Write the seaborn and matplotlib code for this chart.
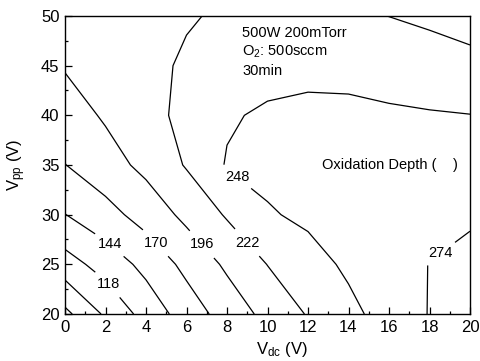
import numpy as np
import matplotlib
matplotlib.use("Agg")
import matplotlib.pyplot as plt
import seaborn as sns

# grid
vdc = [0, 2, 4, 6, 8, 10, 12, 14, 16, 18, 20]
vpp = [20, 25, 30, 35, 40, 45, 50]
depth = [
    [59.5, 96, 127.7, 156, 181, 203.3, 223.8, 241.4, 258.3, 275, 285],
    [107, 128.6, 151.4, 176.9, 200.3, 222.5, 238.3, 252.3, 263.2, 274.5, 280],
    [143.5, 161, 180.3, 202.4, 224.6, 245.5, 253, 258, 262, 266, 271],
    [169.5, 185.4, 202.6, 224, 250, 255, 259, 262, 264, 266, 266],
    [184, 199, 213.8, 228.5, 245, 252, 255, 254, 251.5, 250, 248.5],
    [198, 205, 214, 226, 232, 238, 240, 240, 237, 232, 227],
    [200, 206, 214, 219.5, 226, 229, 229, 226, 221.8, 218, 215],
]
levels = [66, 92, 118, 144, 170, 196, 222, 248, 274]
label_spots = [(2.3, 23.3), (2.3, 27.2), (4.5, 27.2), (6.7, 26.9),
               (9.0, 27.2), (8.3, 33.3), (18.4, 26.5)]

sns.set_style("ticks")
plt.rcParams["font.family"] = ["Liberation Sans", "DejaVu Sans"]
plt.rcParams["mathtext.fontset"] = "custom"
plt.rcParams["mathtext.rm"] = "Liberation Sans"
plt.rcParams["mathtext.it"] = "Liberation Sans"
plt.rcParams["xtick.direction"] = "in"
plt.rcParams["ytick.direction"] = "in"
for key in ["text.color", "axes.labelcolor", "xtick.color", "ytick.color",
            "xtick.labelcolor", "ytick.labelcolor"]:
    plt.rcParams[key] = "black"

fig = plt.figure(figsize=(4.8, 3.61), dpi=100)
ax = fig.add_axes([65 / 480, 1 - 314 / 361, 405 / 480, 298 / 361])

X, Y = np.meshgrid(vdc, vpp)
cs = ax.contour(X, Y, np.array(depth), levels=levels, colors="black", linewidths=0.9)
labels = ax.clabel(cs, manual=label_spots, fmt="%d",
                   fontsize=10.5, inline=True, inline_spacing=6)
for t in labels:
    t.set_rotation(0)

ax.set_xlim(0, 20)
ax.set_ylim(20, 50)
ax.set_xticks(range(0, 21, 2))
ax.set_xticks(range(0, 21, 1), minor=True)
ax.set_yticks(range(20, 51, 5))
ax.set_yticks(np.arange(20, 51, 2.5), minor=True)
ax.tick_params(which="major", length=5, width=0.9, labelsize=12, pad=4,
               top=False, right=False, color="black")
ax.tick_params(which="minor", length=2.5, width=0.9, top=False, right=False)
for s in ax.spines.values():
    s.set_linewidth(1.0)
    s.set_color("black")

ax.set_xlabel("V$_{dc}$ (V)", fontsize=12)
ax.xaxis.set_label_coords(0.536, -0.088)
ax.set_ylabel("V$_{pp}$ (V)", fontsize=12)
ax.yaxis.set_label_coords(-0.092, 0.5)

ax.text(8.74, 47.9, "500W 200mTorr", fontsize=10.5, va="baseline")
ax.text(8.74, 46.0, "O$_2$: 500sccm", fontsize=10.5, va="baseline")
ax.text(8.74, 44.1, "30min", fontsize=10.5, va="baseline")
ax.text(19.4, 35.0, "Oxidation Depth (    )", fontsize=10.5, ha="right", va="center")

fig.savefig("out.png", dpi=100)
